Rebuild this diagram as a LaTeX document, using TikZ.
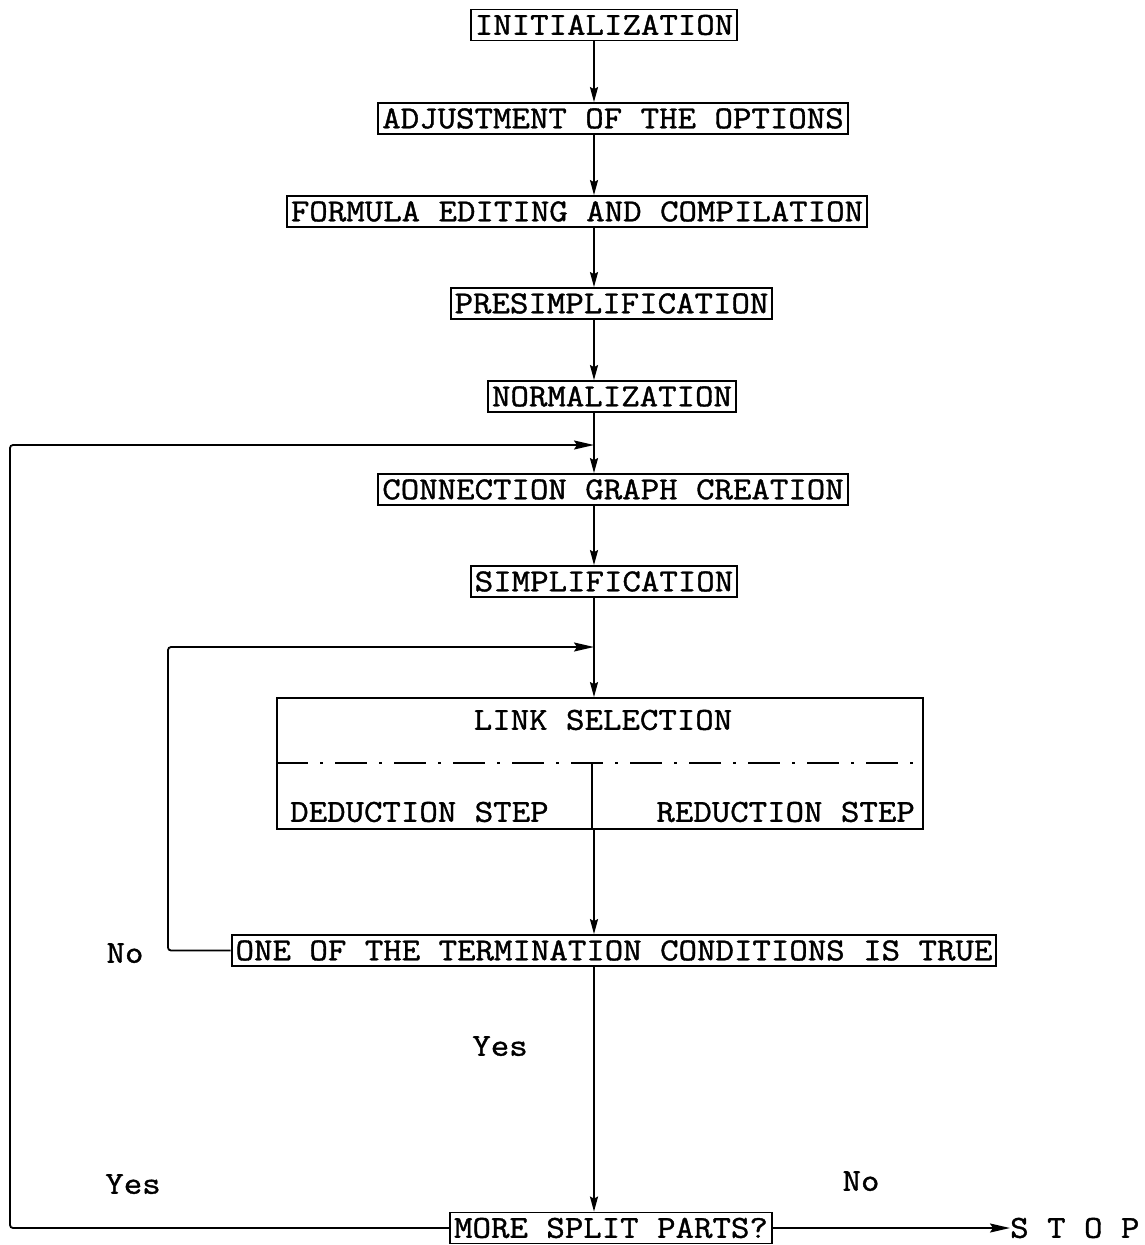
\documentclass[tikz,border=0pt]{standalone}
\usepackage{fontspec}
\newfontfamily\twfont[FakeStretch=1.12,FakeBold=1.2]{Latin Modern Mono}
\usetikzlibrary{arrows.meta}
\begin{document}
\begin{tikzpicture}[x=1pt,y=-1pt,
  tt/.style={font=\twfont\fontsize{32}{34}\selectfont},
  box/.style={tt,draw,line width=1.8pt,inner xsep=4pt,inner ysep=0pt,
    minimum height=31pt,text height=19.5pt,text depth=0pt},
  lbl/.style={tt,inner sep=0pt,text height=19.5pt,text depth=0pt},
  conn/.style={line width=1.8pt},
  arr/.style={conn,-{Stealth[length=15pt,width=8pt,inset=2pt]}},
  bigarr/.style={conn,-{Stealth[length=20pt,width=9pt,inset=3pt]}}]
\useasboundingbox (0,0) rectangle (1145,1245);
\coordinate (mx) at (594,0);
\node[box] (init) at (604,25) {INITIALIZATION};
\node[box] (adj) at (613,118.5) {ADJUSTMENT OF THE OPTIONS};
\node[box] (form) at (577,211.5) {FORMULA EDITING AND COMPILATION};
\node[box] (pres) at (611.5,303.5) {PRESIMPLIFICATION};
\node[box] (norm) at (612,396.5) {NORMALIZATION};
\node[box] (cgc) at (613,489.5) {CONNECTION GRAPH CREATION};
\node[box] (simp) at (604,581.5) {SIMPLIFICATION};
\node[draw,line width=1.8pt,minimum width=646pt,minimum height=131pt,inner sep=0pt] (link) at (600,763.5) {};
\node[lbl] (ls) at (603,720) {LINK SELECTION};
\node[lbl,anchor=west] (ded) at (290,812) {DEDUCTION STEP};
\node[lbl,anchor=east] (red) at (915,812) {REDUCTION STEP};
\coordinate (dl) at (link.west |- 0,763);
\coordinate (dr) at (link.east |- 0,763);
\coordinate (dv) at (592,763);
\draw[line width=1.8pt,dash pattern=on 32pt off 12pt on 3pt off 12pt] (dl) -- (dr);
\draw[conn] (dv) -- (dv |- link.south);
\node[box] (term) at (614,950.5) {ONE OF THE TERMINATION CONDITIONS IS TRUE};
\node[box] (more) at (611,1228) {MORE SPLIT PARTS?};
\node[lbl,anchor=west] (stop) at (1010,1228) {S T O P};
\node[lbl] (no1) at (125,953) {No};
\node[lbl] (yes1) at (500,1046) {Yes};
\node[lbl] (yes2) at (133,1184) {Yes};
\node[lbl] (no2) at (861,1181) {No};
\draw[arr] (init.south -| mx) -- (adj.north -| mx);
\draw[arr] (adj.south -| mx) -- (form.north -| mx);
\draw[arr] (form.south -| mx) -- (pres.north -| mx);
\draw[arr] (pres.south -| mx) -- (norm.north -| mx);
\draw[arr] (norm.south -| mx) -- (cgc.north -| mx);
\draw[arr] (cgc.south -| mx) -- (simp.north -| mx);
\draw[arr] (simp.south -| mx) -- (link.north -| mx);
\draw[arr] (link.south -| mx) -- (term.north -| mx);
\draw[arr] (term.south -| mx) -- (more.north -| mx);
\coordinate (l1) at (10,445);
\coordinate (j1) at (594,445);
\coordinate (l2) at (168,647);
\coordinate (j2) at (594,647);
\draw[bigarr,rounded corners=3pt] (more.west) -| (l1) -- (j1);
\draw[bigarr,rounded corners=3pt] (term.west) -| (l2) -- (j2);
\draw[bigarr] (more.east) -- (stop.west);
\end{tikzpicture}
\end{document}
